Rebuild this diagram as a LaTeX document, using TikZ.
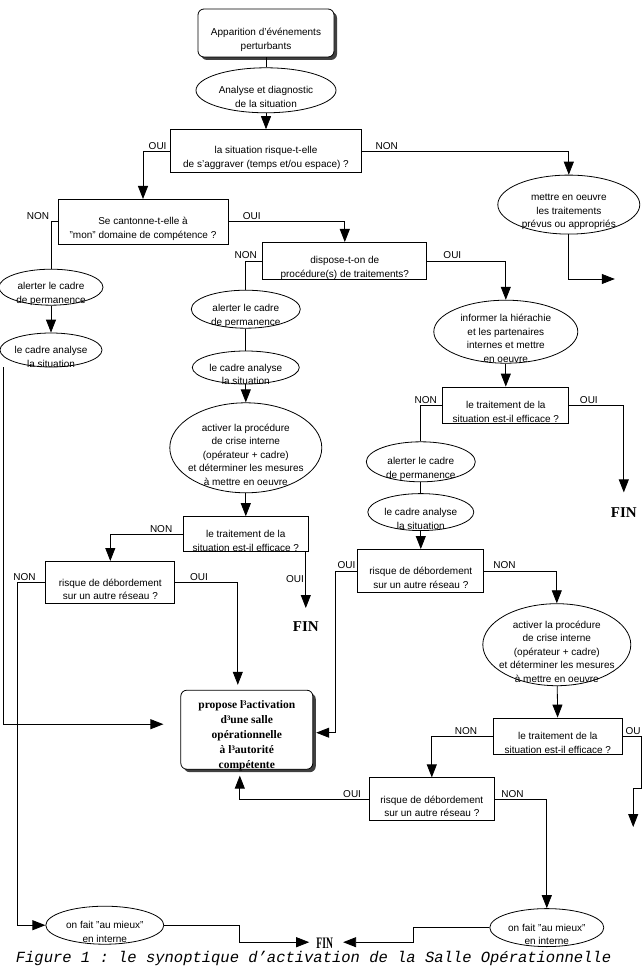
\documentclass[tikz,border=0pt]{standalone}
\usepackage{fontspec}
\setmainfont{Liberation Serif}
\setsansfont{Liberation Sans}
\setmonofont{Liberation Mono}
\usetikzlibrary{arrows.meta,positioning,shapes.geometric,shadows}
\newcommand{\tgap}{\rule{0pt}{21pt}}
\tikzset{base/.style={draw,line width=.8pt,align=center,font=\sffamily\fontsize{10}{13.5}\selectfont},sz/.style 2 args={minimum width=#1,minimum height=#2},box/.style={base,rectangle,inner sep=-2pt},ell/.style={base,ellipse,inner sep=-10pt},term/.style={box,fill=white,rounded corners=6pt,drop shadow={shadow xshift=3pt,shadow yshift=-3pt,fill=black!75,opacity=1}},fin/.style={font=\rmfamily\bfseries\fontsize{15}{15}\selectfont,inner sep=1pt},lbl/.style={font=\sffamily\fontsize{10}{10}\selectfont,inner sep=1.5pt},link/.style={line width=.8pt},edge/.style={link,-{Triangle[length=13pt,width=10pt]}}}
\begin{document}
\begin{tikzpicture}
\useasboundingbox (0,0) rectangle (642pt,-968pt);
% top of the chart
\node[term,sz={136pt}{48pt}] (apparition) at (266pt,-33pt) {\tgap Apparition d'événements\\perturbants};\node[ell,sz={140pt}{45pt},below=10pt of apparition] (analyse) {\tgap Analyse et diagnostic\\de la situation};\node[box,sz={191pt}{43pt},below=16pt of analyse] (q1) {\tgap la situation risque-t-elle\\de s'aggraver (temps et/ou espace) ?};
\node[ell,sz={142pt}{59pt},right=135.5pt of q1,yshift=-53.5pt] (mettre) {\tgap mettre en oeuvre\\les traitements\\prévus ou appropriés};\node[box,sz={170pt}{45pt},below=26pt of q1,xshift=-123pt] (q2) {\tgap Se cantonne-t-elle à\\"mon" domaine de compétence ?};\node[box,sz={164pt}{37pt},right=34pt of q2,yshift=-39pt] (q3) {\tgap dispose-t-on de\\procédure(s) de traitements?};
% left column
\node[ell,sz={104pt}{36pt},below=24pt of q2,xshift=-92pt] (alert1) {\tgap alerter le cadre\\de permanence};\node[ell,sz={102pt}{34pt},below=27pt of alert1] (cadre1) {\tgap le cadre analyse\\la situation};
% middle column
\node[ell,sz={109pt}{38pt},below=10pt of q3,xshift=-99pt] (alert2) {\tgap alerter le cadre\\de permanence};\node[ell,sz={107pt}{33pt},below=22pt of alert2] (cadre2) {\tgap le cadre analyse\\la situation};\node[ell,sz={152pt}{90pt},below=18pt of cadre2] (activ1) {\tgap activer la procédure\\de crise interne\\(opérateur + cadre)\\et déterminer les mesures\\à mettre en oeuvre};
\node[box,sz={125pt}{35pt},below=23pt of activ1] (eff1) {\tgap le traitement de la\\situation est-il efficace ?};\node[box,sz={129pt}{42pt},below=9pt of eff1,xshift=-135.5pt] (risq1) {\tgap risque de débordement\\sur un autre réseau ?};\node[fin,below=68pt of eff1,xshift=60pt] (fin1) {FIN};
\node[term,sz={132pt}{79pt},inner ysep=-3pt,font=\rmfamily\bfseries\fontsize{11.5}{15}\selectfont,below=86pt of risq1,xshift=136.5pt] (propose) {\tgap propose l³activation\\d³une salle\\opérationnelle\\à l³autorité\\compétente};
% right column
\node[ell,sz={144pt}{63pt},below=20pt of q3,xshift=161pt] (informer) {\tgap informer la hiérachie\\et les partenaires\\internes et mettre\\en oeuvre};\node[box,sz={126pt}{36pt},below=23pt of informer] (eff2) {\tgap le traitement de la\\situation est-il efficace ?};\node[fin,below=83pt of eff2,xshift=118pt] (fin2) {FIN};
\node[ell,sz={109pt}{40pt},below=18pt of eff2,xshift=-85pt] (alert3) {\tgap alerter le cadre\\de permanence};\node[ell,sz={106pt}{37pt},below=11pt of alert3] (cadre3) {\tgap le cadre analyse\\la situation};\node[box,sz={126pt}{43pt},below=18pt of cadre3] (risq2) {\tgap risque de débordement\\sur un autre réseau ?};
\node[ell,sz={148pt}{82pt},below=10.5pt of risq2,xshift=136pt] (activ2) {\tgap activer la procédure\\de crise interne\\(opérateur + cadre)\\et déterminer les mesures\\à mettre en oeuvre};\node[box,sz={129pt}{36pt},below=31.5pt of activ2,xshift=1pt] (eff3) {\tgap le traitement de la\\situation est-il efficace ?};\node[box,sz={125pt}{43pt},below=23pt of eff3,xshift=-126pt] (risq3) {\tgap risque de débordement\\sur un autre réseau ?};
% bottom
\node[ell,sz={118pt}{38pt},below=302pt of risq1,xshift=-5.5pt] (mieux1) {\tgap on fait "au mieux"\\en interne};\node[ell,sz={114pt}{38pt},below=87pt of risq3,xshift=115pt] (mieux2) {\tgap on fait "au mieux"\\en interne};\node[fin,font=\rmfamily\bfseries\fontsize{16}{16}\selectfont,right=151pt of mieux1,yshift=-18pt] (fin3) {\scalebox{.6}[1]{FIN}};
\node[font=\ttfamily\itshape\fontsize{15.5}{15.5}\selectfont,inner sep=0pt] (caption) at (313.5pt,-958.5pt) {Figure 1 : le synoptique d’activation de la Salle Opérationnelle};
\coordinate (mettreend) at ([xshift=46pt,yshift=-44.5pt]mettre.south);\coordinate (lfall) at ([xshift=-48pt]cadre1.south);\coordinate (ouend) at ([xshift=10.5pt,yshift=-91pt]eff3.east);
% connectors
\draw[link] (apparition) -- (analyse);\draw[edge] (analyse) -- (q1);\draw[edge] (q1.west) -| node[lbl,pos=.23,above]{OUI} (q2.north);\draw[edge] (q1.east) -| node[lbl,pos=.06,above]{NON} (mettre.north);\draw[edge] (mettre.south) |- (mettreend);
\draw[link] (q2.west) -| node[lbl,pos=.5,above left]{NON} (alert1.north);\draw[edge] (alert1) -- (cadre1);\draw[edge] (q2.east) -| node[lbl,pos=.1,above]{OUI} (q3.north);\draw[link] (q3.west) -| node[lbl,pos=.5,above]{NON} (alert2.north);\draw[link] (alert2) -- (cadre2);\draw[edge] (cadre2) -- (activ1);
\draw[edge] (q3.east) -| node[lbl,pos=.16,above]{OUI} (informer.north);\draw[edge] (informer) -- (eff2);\draw[link] (eff2.west) -| node[lbl,pos=.5,above,xshift=5pt]{NON} (alert3.north);\draw[edge,shorten >=14pt] (eff2.east) -| node[lbl,pos=.18,above]{OUI} (fin2.north);\draw[link] (alert3) -- (cadre3);\draw[edge] (cadre3) -- (risq2);
\draw[edge] (activ1) -- (eff1);\draw[edge] (eff1.west) -| node[lbl,pos=.15,above]{NON} (risq1.north);\draw[edge,shorten >=12pt] (eff1.south -| fin1) -- node[lbl,pos=.4,left]{OUI} (fin1.north);\draw[edge,shorten >=5pt] (risq1.east) -| node[lbl,pos=.19,above]{OUI} ([xshift=-9pt]propose.north);\draw[edge] (risq1.west) -| node[lbl,pos=.375,above]{NON} ([xshift=-28pt]mieux1.west) -- (mieux1.west);
\draw[edge,shorten >=17pt] (lfall) |- ([yshift=5.5pt]propose.west);\draw[edge,shorten >=3pt] (risq2.west) -- node[lbl,above]{OUI} ++(-22pt,0) |- ([yshift=-3pt]propose.east);\draw[edge] (risq2.east) -| node[lbl,pos=.14,above]{NON} (activ2.north);\draw[edge] (activ2) -- (eff3);
\draw[edge] (eff3.west) -| node[lbl,pos=.22,above]{NON} (risq3.north);\draw[edge] (eff3.east) -| node[lbl,pos=.28,above]{OU} ([xshift=8pt,yshift=39pt]ouend) -| (ouend);\draw[edge,shorten >=6pt] (risq3.west) -| node[lbl,pos=.065,above]{OUI} ([xshift=-7pt]propose.south);\draw[edge] (risq3.east) -| node[lbl,pos=.17,above]{NON} (mieux2.north);
\draw[edge,shorten >=6pt] (mieux1.east) -- ++(75pt,0) |- ([yshift=1pt]fin3.west);\draw[edge,shorten >=9pt] (mieux2.west) -- ++(-76pt,0) |- ([yshift=1pt]fin3.east);
\end{tikzpicture}
\end{document}
